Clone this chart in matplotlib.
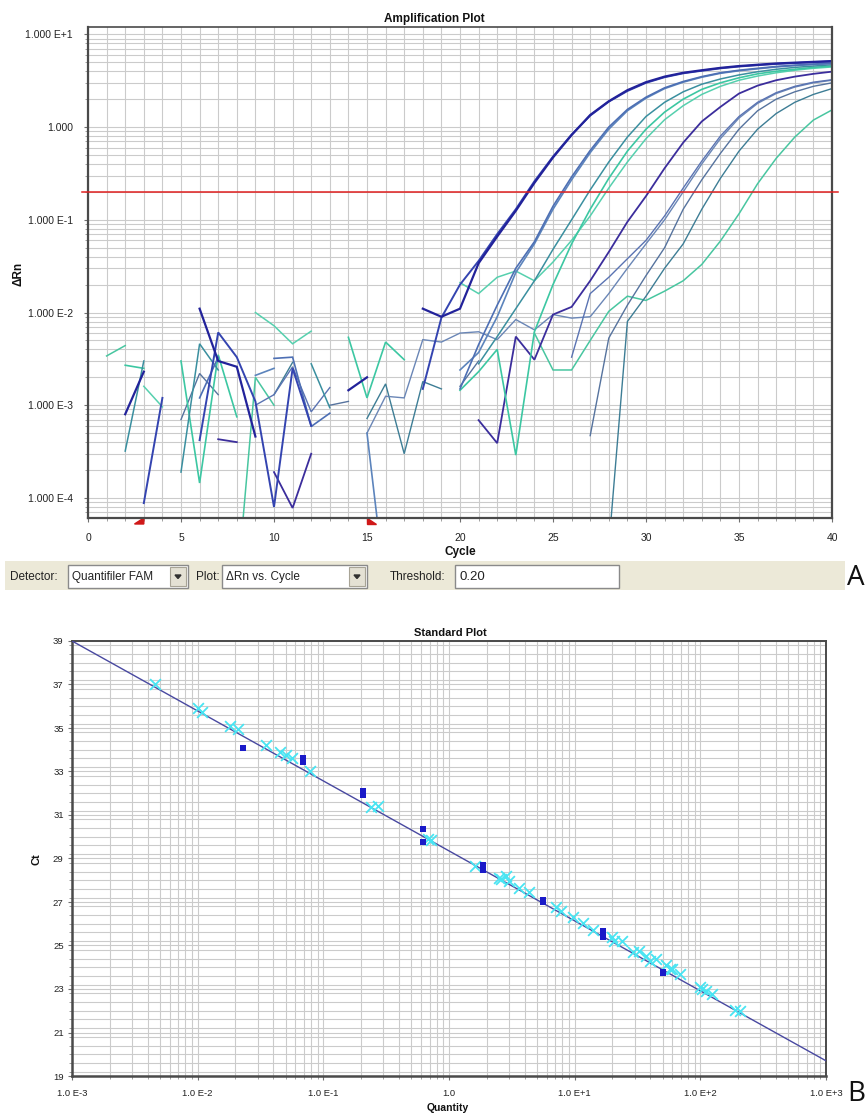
import numpy as np
import matplotlib
matplotlib.use("Agg")
import matplotlib.pyplot as plt
from matplotlib.ticker import (FixedLocator, FixedFormatter, LogLocator,
                               NullFormatter, MultipleLocator)
from matplotlib.patches import Rectangle, Polygon
import matplotlib.transforms as mtransforms

plt.rcParams['font.family'] = ['Liberation Sans', 'DejaVu Sans']

nan = np.nan
W, H = 867, 1115

# ---------------- amplification data (ΔRn per cycle, nan = not positive) ----
cycles = np.arange(1, 41)

rn_a1 = [nan, 8.0e-4, 2.3e-3, nan, nan, 1.1e-2, 3.0e-3, 2.6e-3, 4.6e-4, nan,
         nan, nan, nan, 1.45e-3, 2.0e-3, nan, nan, 1.1e-2, 9.0e-3, 1.1e-2,
         3.4e-2, 6.6e-2, 1.25e-1, 2.5e-1, 4.7e-1, 8.2e-1, 1.35, 1.9, 2.5, 3.05,
         3.5, 3.85, 4.1, 4.35, 4.55, 4.7, 4.85, 4.95, 5.05, 5.15]
rn_a2 = [nan, nan, 8.8e-5, 1.2e-3, nan, 4.2e-4, 6.1e-3, 3.3e-3, 1.1e-3, 8.0e-5,
         2.5e-3, 6.0e-4, nan, nan, nan, nan, nan, 1.5e-3, 8.8e-3, 2.0e-2,
         3.6e-2, 7.0e-2, 1.3e-1, 2.6e-1, 4.8e-1, 8.3e-1, 1.33, 1.88, 2.45, 3.0,
         3.45, 3.8, 4.05, 4.3, 4.5, 4.65, 4.8, 4.9, 5.0, 5.1]
rn_b1 = [nan, nan, nan, nan, nan, 1.2e-3, 3.3e-3, nan, nan, 3.2e-3,
         3.3e-3, 5.9e-4, 8.2e-4, nan, nan, nan, nan, nan, nan, 1.5e-3,
         4.5e-3, 1.2e-2, 3.0e-2, 5.8e-2, 1.4e-1, 2.9e-1, 5.6e-1, 1.0, 1.55, 2.1,
         2.65, 3.1, 3.5, 3.85, 4.1, 4.3, 4.5, 4.65, 4.78, 4.9]
rn_b2 = [nan, nan, nan, nan, nan, nan, nan, nan, 2.1e-3, 2.5e-3,
         nan, nan, nan, nan, 5.0e-4, 1.0e-5, nan, nan, nan, 2.4e-3,
         3.7e-3, 9.0e-3, 2.7e-2, 5.5e-2, 1.3e-1, 2.7e-1, 5.3e-1, 9.5e-1, 1.5, 2.05,
         2.6, 3.05, 3.45, 3.8, 4.05, 4.25, 4.45, 4.6, 4.72, 4.82]
rn_c = [nan, 3.2e-4, 3.0e-3, nan, 1.9e-4, 4.6e-3, 2.4e-3, nan, nan, nan,
        nan, 2.8e-3, 9.4e-4, nan, nan, nan, nan, nan, nan, nan,
        2.8e-3, 5.5e-3, 1.1e-2, 2.2e-2, 4.8e-2, 1.0e-1, 2.1e-1, 4.2e-1, 7.8e-1, 1.3,
        1.85, 2.4, 2.9, 3.3, 3.65, 3.95, 4.2, 4.4, 4.55, 4.7]
rn_d1 = [nan, 2.7e-3, 2.5e-3, nan, 3.0e-3, 1.45e-4, 3.5e-3, 7.5e-4, nan, nan,
         nan, nan, nan, 5.4e-3, 1.2e-3, 4.8e-3, 3.1e-3, nan, nan, 1.45e-3,
         2.3e-3, 4.0e-3, 2.9e-4, 6.2e-3, 2.0e-2, 5.5e-2, 1.3e-1, 2.8e-1, 5.5e-1, 9.5e-1,
         1.45, 2.0, 2.55, 3.0, 3.4, 3.75, 4.0, 4.2, 4.4, 4.55]
rn_d2 = [nan, nan, 1.6e-3, 9.6e-4, nan, nan, nan, nan, 1.0e-2, 7.2e-3,
         4.6e-3, 6.3e-3, nan, nan, nan, nan, nan, nan, nan, 2.1e-2,
         1.6e-2, 2.4e-2, 2.8e-2, 2.2e-2, 3.5e-2, 6.0e-2, 1.1e-1, 2.2e-1, 4.2e-1, 7.5e-1,
         1.2, 1.7, 2.25, 2.75, 3.2, 3.55, 3.85, 4.1, 4.3, 4.45]
rn_e = [nan, nan, nan, nan, nan, nan, 4.3e-4, 4.0e-4, nan, 1.9e-4,
        7.8e-5, 3.0e-4, nan, nan, nan, nan, nan, nan, nan, nan,
        6.9e-4, 3.9e-4, 5.5e-3, 3.1e-3, 9.5e-3, 1.15e-2, 2.2e-2, 4.5e-2, 9.5e-2, 1.8e-1,
        3.6e-1, 6.8e-1, 1.15, 1.65, 2.3, 2.8, 3.2, 3.5, 3.75, 3.96]
rn_f1 = [nan, nan, nan, nan, nan, nan, nan, nan, 1.0e-3, 1.3e-3,
         2.6e-3, 8.5e-4, 1.55e-3, nan, nan, nan, nan, nan, nan, nan,
         nan, nan, nan, nan, nan, 3.3e-3, 1.6e-2, 2.4e-2, 3.8e-2, 6.0e-2,
         1.1e-1, 2.2e-1, 4.3e-1, 8.0e-1, 1.3, 1.85, 2.35, 2.75, 3.05, 3.24]
rn_f2 = [nan, nan, nan, nan, nan, nan, nan, nan, 5.9e-4, nan,
         nan, nan, nan, nan, 5.0e-4, 1.25e-3, 1.2e-3, 5.1e-3, 4.8e-3, 6.0e-3,
         6.2e-3, 5.1e-3, 8.4e-3, 6.5e-3, 9.5e-3, 8.7e-3, 9.0e-3, 1.6e-2, 3.0e-2, 5.5e-2,
         1.0e-1, 2.0e-1, 4.0e-1, 7.5e-1, 1.25, 1.8, 2.3, 2.7, 3.0, 3.2]
rn_g = [nan, nan, nan, nan, 7.0e-4, 2.2e-3, 1.3e-3, nan, nan, nan,
        nan, nan, 1.0e-3, 1.1e-3, nan, nan, nan, nan, nan, 1.6e-3,
        3.0e-3, nan, nan, nan, nan, nan, 4.7e-4, 5.3e-3, 1.2e-2, 2.5e-2,
        5.0e-2, 1.3e-1, 2.7e-1, 5.2e-1, 9.5e-1, 1.5, 2.0, 2.4, 2.75, 3.0]
rn_h = [nan, nan, nan, nan, nan, nan, nan, nan, nan, 1.3e-3,
        2.9e-3, nan, nan, nan, 7.2e-4, 1.7e-3, 3.0e-4, 1.8e-3, 1.5e-3, nan,
        nan, nan, nan, nan, nan, nan, nan, 3.0e-5, 8.0e-3, 1.5e-2,
        3.0e-2, 5.5e-2, 1.3e-1, 2.8e-1, 5.5e-1, 9.5e-1, 1.4, 1.85, 2.25, 2.6]
rn_i = [3.4e-3, 4.4e-3, nan, nan, nan, nan, nan, 1.0e-5, 2.0e-3, 1.0e-3,
        nan, nan, nan, nan, nan, nan, nan, nan, nan, nan,
        nan, nan, nan, 6.0e-3, 2.4e-3, 2.4e-3, 5.0e-3, 1.03e-2, 1.5e-2, 1.35e-2,
        1.7e-2, 2.2e-2, 3.3e-2, 5.9e-2, 1.16e-1, 2.45e-1, 4.6e-1, 7.8e-1, 1.19, 1.53]

threshold = 0.20
baseline_start, baseline_end = 3, 15

amp_yticks = [1e-4, 1e-3, 1e-2, 1e-1, 1.0, 10.0]
amp_ylabels = ['1.000 E-4', '1.000 E-3', '1.000 E-2', '1.000 E-1', '1.000', '1.000 E+1']
amp_xticks = [0, 5, 10, 15, 20, 25, 30, 35, 40]

# ---------------- standard curve data ----------------
std_qty = [0.023, 0.0686, 0.0686, 0.206, 0.206, 0.617, 0.617, 1.85, 1.85,
           5.56, 5.56, 16.7, 16.7, 50.0, 50.0]
std_ct = [34.1, 33.6, 33.45, 32.1, 31.9, 30.35, 29.75, 28.72, 28.47,
          27.1, 27.02, 25.68, 25.38, 23.72, 23.8]

unk_qty = [0.0046, 0.0100, 0.0108, 0.018, 0.021, 0.035, 0.045, 0.050, 0.056,
           0.078, 0.24, 0.27, 0.68, 0.72, 1.6, 2.5, 2.6, 2.85, 3.0, 3.6, 4.3,
           7.1, 7.8, 9.7, 11.6, 14.0, 19.9, 20.5, 23.6, 29.0, 32.8, 37.0, 40.0,
           44.6, 53.0, 57.0, 60.0, 69.0, 99.0, 104.0, 110.0, 124.0, 190.0, 205.0]
unk_ct = [37.0, 35.9, 35.75, 35.1, 34.95, 34.2, 33.9, 33.75, 33.6,
          33.0, 31.35, 31.4, 29.9, 29.85, 28.66, 28.1, 28.05, 28.2, 27.95, 27.65, 27.45,
          26.75, 26.6, 26.3, 26.05, 25.7, 25.4, 25.2, 25.2, 24.7, 24.75, 24.5, 24.3,
          24.4, 24.1, 23.9, 23.9, 23.7, 23.1, 23.0, 22.9, 22.75, 22.05, 22.0]

fit_slope = -3.217
fit_intercept = 29.35

std_xticks = [1e-3, 1e-2, 1e-1, 1.0, 1e1, 1e2, 1e3]
std_xlabels = ['1.0 E-3', '1.0 E-2', '1.0 E-1', '1.0', '1.0 E+1', '1.0 E+2', '1.0 E+3']
std_yticks = [19, 21, 23, 25, 27, 29, 31, 33, 35, 37, 39]


def fx(px):
    return px / W


def fy(py):
    return 1 - py / H


fig = plt.figure(figsize=(W / 100, H / 100), dpi=100)
fig.patch.set_facecolor('white')

GRID = '#cbcbcb'
SPINE = '#4a4a4a'

# ======================= Amplification plot =======================
ax1 = fig.add_axes([fx(88), fy(518), fx(832 - 88), (518 - 27) / H])
ax1.set_yscale('log')
ax1.set_xlim(0, 40)
ax1.set_ylim(6.08e-5, 12.0)

ax1.yaxis.set_major_locator(FixedLocator(amp_yticks))
ax1.yaxis.set_major_formatter(FixedFormatter(amp_ylabels))
ax1.yaxis.set_minor_locator(LogLocator(base=10, subs=np.arange(2, 10)))
ax1.yaxis.set_minor_formatter(NullFormatter())
ax1.xaxis.set_major_locator(FixedLocator(amp_xticks))
ax1.xaxis.set_minor_locator(MultipleLocator(1))

ax1.grid(True, which='both', color=GRID, lw=0.8)
ax1.set_axisbelow(True)
ax1.tick_params(axis='both', which='major', labelsize=7.5, length=3,
                color='#707070', labelcolor='#222222')
ax1.tick_params(axis='y', which='major', pad=8)
ax1.tick_params(axis='x', which='major', pad=8)
ax1.tick_params(axis='both', which='minor', length=2, color='#909090')
for side, lw in [('left', 1.6), ('bottom', 1.6), ('top', 1.2), ('right', 1.6)]:
    ax1.spines[side].set_color(SPINE)
    ax1.spines[side].set_linewidth(lw)

curves = [
    (rn_i, '#48c6a0', 1.1),
    (rn_h, '#3d7d95', 1.0),
    (rn_g, '#56739e', 1.0),
    (rn_f2, '#6a86b6', 1.0),
    (rn_f1, '#5a73b2', 1.0),
    (rn_e, '#3b2d9c', 1.3),
    (rn_d2, '#56d0ae', 1.1),
    (rn_d1, '#3cc7a2', 1.2),
    (rn_c, '#3a8f9f', 1.1),
    (rn_b2, '#5c84bc', 1.2),
    (rn_b1, '#4d6fb4', 1.2),
    (rn_a2, '#3444b0', 1.4),
    (rn_a1, '#22229a', 1.6),
]
for vals, col, lw in curves:
    ax1.plot(cycles, vals, color=col, lw=lw, solid_joinstyle='miter')

ax1.plot([-0.3, 40.3], [threshold, threshold], color='#e02020', lw=1.1,
         clip_on=False, zorder=5)

# baseline start / end markers under the cycle axis
trans = mtransforms.blended_transform_factory(ax1.transData, ax1.transAxes)
h = 6 / (518 - 27)
ax1.add_patch(Polygon([(baseline_start - 0.5, -h), (baseline_start, 0),
                       (baseline_start, -h)], closed=True, color='#d01818',
                      transform=trans, clip_on=False))
ax1.add_patch(Polygon([(baseline_end, 0), (baseline_end, -h),
                       (baseline_end + 0.5, -h)], closed=True, color='#d01818',
                      transform=trans, clip_on=False))

fig.text(fx(434), fy(19), 'Amplification Plot', ha='center', va='center',
         fontsize=8.5, fontweight='bold', color='#111111')
fig.text(fx(460), fy(552), 'Cycle', ha='center', va='center',
         fontsize=8.5, fontweight='bold', color='#111111')
fig.text(fx(18), fy(274), 'ΔRn', ha='center', va='center', rotation=90,
         fontsize=8.5, fontweight='bold', color='#111111')

# ---------------- control bar under the amplification plot ----------------
def box(x0, y0, x1, y1, fc, ec='none', lw=0.0):
    r = Rectangle((fx(x0), fy(y1)), fx(x1 - x0), (y1 - y0) / H, transform=fig.transFigure,
                  facecolor=fc, edgecolor=ec, linewidth=lw)
    fig.add_artist(r)


def drop_button(x0, y0, x1, y1):
    box(x0, y0, x1, y1, '#e4e1d4', '#a8a496', 0.8)
    cx, cy = (x0 + x1) / 2, (y0 + y1) / 2
    tri = Polygon([(fx(cx - 3), fy(cy - 1.5)), (fx(cx + 3), fy(cy - 1.5)),
                   (fx(cx), fy(cy + 2))], closed=True, transform=fig.transFigure,
                  color='#303030')
    fig.add_artist(tri)


box(5, 561, 845, 590, '#ece9d8')
TB = dict(fontsize=8.5, va='center', ha='left', color='#222222')
fig.text(fx(10), fy(577), 'Detector:', **TB)
box(68, 565, 188, 588, 'white', '#8a8a8a', 1.0)
fig.text(fx(72), fy(577), 'Quantifiler FAM', **TB)
drop_button(170, 567, 186, 586)
fig.text(fx(196), fy(577), 'Plot:', **TB)
box(222, 565, 367, 588, 'white', '#8a8a8a', 1.0)
fig.text(fx(226), fy(577), 'ΔRn vs. Cycle', **TB)
drop_button(349, 567, 365, 586)
fig.text(fx(390), fy(577), 'Threshold:', **TB)
box(455, 565, 619, 588, 'white', '#8a8a8a', 1.0)
fig.text(fx(459), fy(577), '0.20', fontsize=9.5, va='center', ha='left', color='#222222')

fig.text(fx(856), fy(578), 'A', ha='center', va='center', fontsize=20,
         family=['Open Sans', 'DejaVu Sans'], color='#111111')

# ======================= Standard plot =======================
ax2 = fig.add_axes([fx(72), fy(1076), fx(826 - 72), (1076 - 641) / H])
ax2.set_xscale('log')
ax2.set_xlim(1e-3, 1e3)
ax2.set_ylim(19, 39)
ax2.xaxis.set_major_locator(FixedLocator(std_xticks))
ax2.xaxis.set_major_formatter(FixedFormatter(std_xlabels))
ax2.xaxis.set_minor_locator(LogLocator(base=10, subs=np.arange(2, 10)))
ax2.xaxis.set_minor_formatter(NullFormatter())
ax2.yaxis.set_major_locator(FixedLocator(std_yticks))
ax2.yaxis.set_minor_locator(MultipleLocator(0.4))

ax2.grid(True, which='both', color=GRID, lw=0.8)
ax2.set_axisbelow(True)
ax2.tick_params(axis='both', which='major', labelsize=6.8, length=3,
                color='#707070', labelcolor='#222222')
ax2.tick_params(axis='y', which='major', pad=3)
ax2.tick_params(axis='x', which='major', pad=6)
ax2.tick_params(axis='both', which='minor', length=2, color='#909090')
for side, lw in [('left', 1.8), ('bottom', 1.8), ('top', 1.4), ('right', 1.4)]:
    ax2.spines[side].set_color(SPINE)
    ax2.spines[side].set_linewidth(lw)

q_line = np.array([1e-3, 1e3])
ax2.plot(q_line, fit_intercept + fit_slope * np.log10(q_line), color='#4848a0', lw=1.0,
         zorder=3)
ax2.scatter(unk_qty, unk_ct, marker='x', s=60, color='#48e4f2', linewidths=1.3,
            zorder=4)
ax2.scatter(std_qty, std_ct, marker='s', s=16, color='#1a1ac8', linewidths=0,
            zorder=5)

fig.text(fx(450), fy(633), 'Standard Plot', ha='center', va='center',
         fontsize=8, fontweight='bold', color='#111111')
fig.text(fx(448), fy(1108), 'Quantity', ha='center', va='center',
         fontsize=7.5, fontweight='bold', color='#111111')
fig.text(fx(37), fy(859), 'Ct', ha='center', va='center', rotation=90,
         fontsize=8, fontweight='bold', color='#111111')

fig.text(fx(856), fy(1094), 'B', ha='center', va='center', fontsize=20,
         family=['Open Sans', 'DejaVu Sans'], color='#111111')

fig.savefig('out.png', dpi=100, facecolor='white')
